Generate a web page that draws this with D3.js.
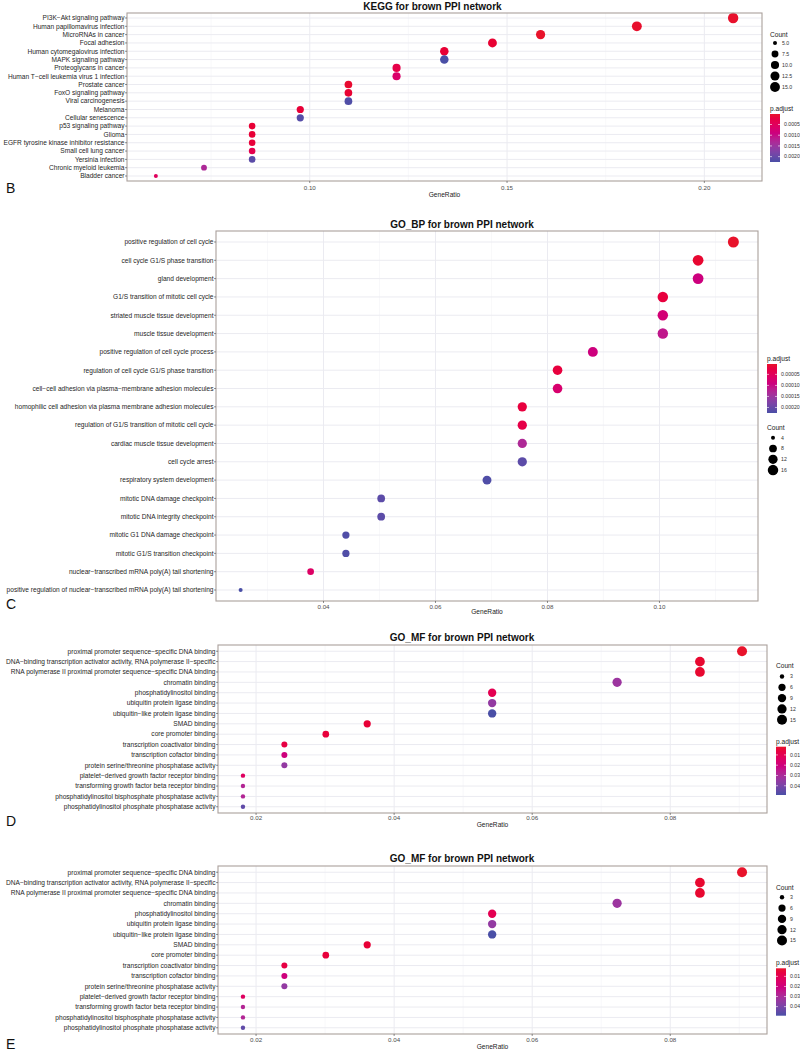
<!DOCTYPE html>
<html><head><meta charset="utf-8">
<script src="https://cdn.jsdelivr.net/npm/d3@7"></script>
<style>body{margin:0;background:#fff} text{font-family:"Liberation Sans",Arial,Helvetica,sans-serif}</style>
</head><body><svg id="c" width="800" height="1052"></svg>
<script>
// ---------------- DATA ----------------
const keggTerms = ["PI3K−Akt signaling pathway","Human papillomavirus infection","MicroRNAs in cancer","Focal adhesion","Human cytomegalovirus infection","MAPK signaling pathway","Proteoglycans in cancer","Human T−cell leukemia virus 1 infection","Prostate cancer","FoxO signaling pathway","Viral carcinogenesis","Melanoma","Cellular senescence","p53 signaling pathway","Glioma","EGFR tyrosine kinase inhibitor resistance","Small cell lung cancer","Yersinia infection","Chronic myeloid leukemia","Bladder cancer"];
const keggCount = [17,15,13,12,11,11,10,10,9,9,9,8,8,7,7,7,7,7,6,5];
const keggRatio = [0.2073,0.1829,0.1585,0.1463,0.1341,0.1341,0.1220,0.1220,0.1098,0.1098,0.1098,0.0976,0.0976,0.0854,0.0854,0.0854,0.0854,0.0854,0.0732,0.0610];
const keggPadj = [0.00002,0.00003,0.00001,0.00008,0.00010,0.00225,0.00030,0.00065,0.00005,0.00008,0.00220,0.00012,0.00215,0.00010,0.00012,0.00015,0.00035,0.00210,0.00130,0.00050];
const keggXTicks = [0.10,0.15,0.20];
const keggXLabels = ["0.10","0.15","0.20"];
const keggCountTicks = [5,7.5,10,12.5,15];
const keggCountLabels = ["5.0","7.5","10.0","12.5","15.0"];
const keggPadjTicks = [0.0005,0.0010,0.0015,0.0020];
const keggPadjLabels = ["0.0005","0.0010","0.0015","0.0020"];

const bpTerms = ["positive regulation of cell cycle","cell cycle G1/S phase transition","gland development","G1/S transition of mitotic cell cycle","striated muscle tissue development","muscle tissue development","positive regulation of cell cycle process","regulation of cell cycle G1/S phase transition","cell−cell adhesion via plasma−membrane adhesion molecules","homophilic cell adhesion via plasma membrane adhesion molecules","regulation of G1/S transition of mitotic cell cycle","cardiac muscle tissue development","cell cycle arrest","respiratory system development","mitotic DNA damage checkpoint","mitotic DNA integrity checkpoint","mitotic G1 DNA damage checkpoint","mitotic G1/S transition checkpoint","nuclear−transcribed mRNA poly(A) tail shortening","positive regulation of nuclear−transcribed mRNA poly(A) tail shortening"];
const bpCount = [18,17,17,16,16,16,14,13,13,12,12,12,12,11,8,8,7,7,6,4];
const bpRatio = [0.1132,0.1069,0.1069,0.1006,0.1006,0.1006,0.0881,0.0818,0.0818,0.0755,0.0755,0.0755,0.0755,0.0692,0.0503,0.0503,0.0440,0.0440,0.0377,0.0252];
const bpPadj = [0.000003,0.000008,0.00009,0.00002,0.00008,0.00011,0.00009,0.00002,0.00007,0.00002,0.00003,0.00013,0.00021,0.00022,0.00021,0.00021,0.00022,0.00022,0.00006,0.000225];
const bpXTicks = [0.04,0.06,0.08,0.10];
const bpXLabels = ["0.04","0.06","0.08","0.10"];
const bpCountTicks = [4,8,12,16];
const bpCountLabels = ["4","8","12","16"];
const bpPadjTicks = [0.00005,0.00010,0.00015,0.00020];
const bpPadjLabels = ["0.00005","0.00010","0.00015","0.00020"];

const mfTerms = ["proximal promoter sequence−specific DNA binding","DNA−binding transcription activator activity, RNA polymerase II−specific","RNA polymerase II proximal promoter sequence−specific DNA binding","chromatin binding","phosphatidylinositol binding","ubiquitin protein ligase binding","ubiquitin−like protein ligase binding","SMAD binding","core promoter binding","transcription coactivator binding","transcription cofactor binding","protein serine/threonine phosphatase activity","platelet−derived growth factor receptor binding","transforming growth factor beta receptor binding","phosphatidylinositol bisphosphate phosphatase activity","phosphatidylinositol phosphate phosphatase activity"];
const mfCount = [15,14,14,12,9,9,9,6,5,4,4,4,3,3,3,3];
const mfRatio = [0.0904,0.0843,0.0843,0.0723,0.0542,0.0542,0.0542,0.0361,0.0301,0.0241,0.0241,0.0241,0.0181,0.0181,0.0181,0.0181];
const mfPadj = [0.002,0.003,0.003,0.033,0.010,0.035,0.049,0.004,0.005,0.007,0.020,0.035,0.013,0.028,0.028,0.045];
const mfXTicks = [0.02,0.04,0.06,0.08];
const mfXLabels = ["0.02","0.04","0.06","0.08"];
const mfCountTicks = [3,6,9,12,15];
const mfCountLabels = ["3","6","9","12","15"];
const mfPadjTicks = [0.01,0.02,0.03,0.04];
const mfPadjLabels = ["0.01","0.02","0.03","0.04"];

// ---------------- DRAWING ----------------
const RED = "#e8132b", BLUE = "#4a4fa6";
const svg = d3.select("#c");
let gradId = 0;

function drawPanel(d, L) {
  const g = svg.append("g");
  const ext = d3.extent(d.ratio), pad = (ext[1]-ext[0])*0.05;
  const x = d3.scaleLinear().domain([ext[0]-pad, ext[1]+pad]).range([L.left, L.right]);
  const y = d3.scalePoint().domain(d.terms).range([L.top, L.bottom]).padding(0.6);
  const cExt = d3.extent(d.count);
  const rLin = d3.scaleLinear().domain([0,1]).range([L.rmin, L.rmax]);
  const r = c => rLin(Math.sqrt(Math.max(0,(c-cExt[0]))/(cExt[1]-cExt[0])));
  const pExt = d3.extent(d.padj);
  const col = d3.scaleLinear().domain(pExt).range([RED, BLUE]).interpolate(d3.interpolateHcl);

  // grid
  const step = d.xTicks[1]-d.xTicks[0];
  const minor = [];
  for (let v = d.xTicks[0]-step/2; v <= d.xTicks[d.xTicks.length-1]+step/2+1e-9; v += step) {
    if (v > x.domain()[0] && v < x.domain()[1]) minor.push(v);
  }
  g.selectAll(".mn").data(minor).join("line")
    .attr("x1", v=>x(v)).attr("x2", v=>x(v)).attr("y1", L.top).attr("y2", L.bottom)
    .attr("stroke", "#f3f3f7").attr("stroke-width", 0.6);
  g.selectAll(".mj").data(d.xTicks).join("line")
    .attr("x1", v=>x(v)).attr("x2", v=>x(v)).attr("y1", L.top).attr("y2", L.bottom)
    .attr("stroke", "#ebebf1").attr("stroke-width", 1);
  g.selectAll(".hy").data(d.terms).join("line")
    .attr("x1", L.left).attr("x2", L.right).attr("y1", t=>y(t)).attr("y2", t=>y(t))
    .attr("stroke", "#ebebf1").attr("stroke-width", 1);

  // points
  g.selectAll(".pt").data(d.terms).join("circle")
    .attr("cx", (t,i)=>x(d.ratio[i])).attr("cy", t=>y(t))
    .attr("r", (t,i)=>r(d.count[i])).attr("fill", (t,i)=>col(d.padj[i]));

  // border
  g.append("rect").attr("x", L.left).attr("y", L.top).attr("width", L.right-L.left).attr("height", L.bottom-L.top)
    .attr("fill", "none").attr("stroke", "#aaa09c").attr("stroke-width", 1.1);

  // y axis labels + ticks
  g.selectAll(".yt").data(d.terms).join("line")
    .attr("x1", L.left-2).attr("x2", L.left).attr("y1", t=>y(t)).attr("y2", t=>y(t))
    .attr("stroke", "#444").attr("stroke-width", 0.6);
  g.selectAll(".yl").data(d.terms).join("text")
    .attr("x", L.left-2.5).attr("y", t=>y(t)).attr("dy", "0.35em")
    .attr("text-anchor", "end").attr("font-size", L.yFont).attr("fill", "#262626").text(t=>t);

  // x axis ticks + labels
  g.selectAll(".xt").data(d.xTicks).join("line")
    .attr("x1", v=>x(v)).attr("x2", v=>x(v)).attr("y1", L.bottom).attr("y2", L.bottom+2)
    .attr("stroke", "#444").attr("stroke-width", 0.6);
  g.selectAll(".xl").data(d.xTicks).join("text")
    .attr("x", v=>x(v)).attr("y", L.xLabY).attr("text-anchor", "middle")
    .attr("font-size", L.xFont).attr("fill", "#4d4d4d").text((v,i)=>d.xLabels[i]);
  g.append("text").attr("x", (L.left+L.right)/2).attr("y", L.axisTitleY).attr("text-anchor", "middle")
    .attr("font-size", L.axisFont).attr("fill", "#222").text("GeneRatio");

  // title
  g.append("text").attr("x", L.titleX).attr("y", L.titleY).attr("text-anchor", "middle")
    .attr("font-size", L.titleFont).attr("font-weight", "bold").attr("fill", "#111").text(d.title);

  // panel letter
  g.append("text").attr("x", 6).attr("y", L.letterY).attr("font-size", 14).attr("fill", "#111").text(d.letter);

  // count legend
  const cl = L.countLeg;
  g.append("text").attr("x", cl.x).attr("y", cl.titleY).attr("font-size", L.legTitleFont).attr("fill", "#222").text("Count");
  g.selectAll(".cd").data(d.countTicks).join("circle")
    .attr("cx", cl.cx).attr("cy", (v,i)=>cl.y0+i*cl.step).attr("r", v=>r(v)).attr("fill", "#000");
  g.selectAll(".ctl").data(d.countTicks).join("text")
    .attr("x", cl.lx).attr("y", (v,i)=>cl.y0+i*cl.step).attr("dy", "0.35em")
    .attr("font-size", L.legFont).attr("fill", "#333").text((v,i)=>d.countLabels[i]);

  // p.adjust legend
  const pl = L.padjLeg;
  g.append("text").attr("x", pl.x).attr("y", pl.titleY).attr("font-size", L.legTitleFont).attr("fill", "#222").text("p.adjust");
  const id = "grad" + (gradId++);
  const lg = svg.append("defs").append("linearGradient").attr("id", id)
    .attr("x1", 0).attr("x2", 0).attr("y1", 0).attr("y2", 1);
  d3.range(0, 1.0001, 0.1).forEach(t => {
    lg.append("stop").attr("offset", t).attr("stop-color", col(pExt[0] + t*(pExt[1]-pExt[0])));
  });
  g.append("rect").attr("x", pl.x).attr("y", pl.y0).attr("width", pl.w).attr("height", pl.y1-pl.y0)
    .attr("fill", `url(#${id})`);
  const py = d3.scaleLinear().domain(pExt).range([pl.y0, pl.y1]);
  g.selectAll(".ptk").data(d.padjTicks).join("line")
    .attr("x1", pl.x).attr("x2", pl.x+2).attr("y1", v=>py(v)).attr("y2", v=>py(v))
    .attr("stroke", "#fff").attr("stroke-width", 0.6);
  g.selectAll(".ptk2").data(d.padjTicks).join("line")
    .attr("x1", pl.x+pl.w-2).attr("x2", pl.x+pl.w).attr("y1", v=>py(v)).attr("y2", v=>py(v))
    .attr("stroke", "#fff").attr("stroke-width", 0.6);
  g.selectAll(".ptl").data(d.padjTicks).join("text")
    .attr("x", pl.x+pl.w+4).attr("y", v=>py(v)).attr("dy", "0.35em")
    .attr("font-size", L.legFont).attr("fill", "#333").text((v,i)=>d.padjLabels[i]);
}

drawPanel(
  {terms:keggTerms, count:keggCount, ratio:keggRatio, padj:keggPadj, xTicks:keggXTicks, xLabels:keggXLabels,
   countTicks:keggCountTicks, countLabels:keggCountLabels, padjTicks:keggPadjTicks, padjLabels:keggPadjLabels,
   title:"KEGG for brown PPI network", letter:"B"},
  {left:127, right:762, top:13, bottom:181, rmin:2.0, rmax:5.2, yFont:6.6, xFont:6.2, xLabY:190, axisFont:6.6, axisTitleY:197,
   titleX:432.5, titleY:9.5, titleFont:10, letterY:193, legTitleFont:6.6, legFont:5.2,
   countLeg:{x:770, titleY:37, cx:775, lx:782, y0:43, step:11},
   padjLeg:{x:770, titleY:110.5, y0:114, y1:162, w:10}}
);
drawPanel(
  {terms:bpTerms, count:bpCount, ratio:bpRatio, padj:bpPadj, xTicks:bpXTicks, xLabels:bpXLabels,
   countTicks:bpCountTicks, countLabels:bpCountLabels, padjTicks:bpPadjTicks, padjLabels:bpPadjLabels,
   title:"GO_BP for brown PPI network", letter:"C"},
  {left:216, right:758, top:231, bottom:601, rmin:2.0, rmax:5.5, yFont:6.6, xFont:6.2, xLabY:609, axisFont:6.6, axisTitleY:614,
   titleX:462, titleY:227.5, titleFont:10, letterY:609, legTitleFont:6.6, legFont:5.2,
   countLeg:{x:767, titleY:430, cx:773, lx:781, y0:437.7, step:10.8},
   padjLeg:{x:767, titleY:360.5, y0:364, y1:413, w:10}}
);
drawPanel(
  {terms:mfTerms, count:mfCount, ratio:mfRatio, padj:mfPadj, xTicks:mfXTicks, xLabels:mfXLabels,
   countTicks:mfCountTicks, countLabels:mfCountLabels, padjTicks:mfPadjTicks, padjLabels:mfPadjLabels,
   title:"GO_MF for brown PPI network", letter:"D"},
  {left:218, right:767, top:645, bottom:813, rmin:2.2, rmax:5.0, yFont:6.6, xFont:6.2, xLabY:820, axisFont:6.6, axisTitleY:827,
   titleX:462, titleY:641, titleFont:10, letterY:826, legTitleFont:6.6, legFont:5.2,
   countLeg:{x:776, titleY:668, cx:782, lx:790, y0:676.5, step:10.8},
   padjLeg:{x:776, titleY:744, y0:746.7, y1:795, w:10}}
);
drawPanel(
  {terms:mfTerms, count:mfCount, ratio:mfRatio, padj:mfPadj, xTicks:mfXTicks, xLabels:mfXLabels,
   countTicks:mfCountTicks, countLabels:mfCountLabels, padjTicks:mfPadjTicks, padjLabels:mfPadjLabels,
   title:"GO_MF for brown PPI network", letter:"E"},
  {left:218, right:767, top:866, bottom:1034, rmin:2.2, rmax:5.0, yFont:6.6, xFont:6.2, xLabY:1042, axisFont:6.6, axisTitleY:1048.5,
   titleX:462, titleY:862, titleFont:10, letterY:1049, legTitleFont:6.6, legFont:5.2,
   countLeg:{x:776, titleY:890, cx:782, lx:790, y0:897.3, step:10.8},
   padjLeg:{x:776, titleY:964.5, y0:968.3, y1:1015.7, w:10}}
);
</script></body></html>
